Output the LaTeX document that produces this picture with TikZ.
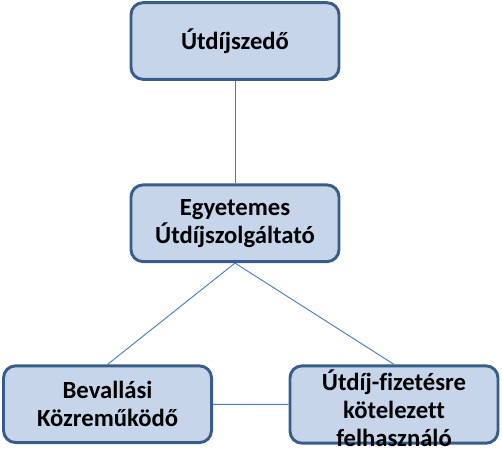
\documentclass[tikz,border=0pt]{standalone}
\usepackage{fontspec}
\setmainfont{Carlito}[Ligatures=CommonOff]
\usepackage{tikz}
\usetikzlibrary{positioning}

\definecolor{boxfill}{RGB}{198,213,234}
\definecolor{boxline}{RGB}{56,93,138}
\definecolor{linkline}{RGB}{74,126,187}

\begin{document}
\begin{tikzpicture}[
  font=\bfseries\fontsize{18.5}{21}\selectfont,
  role/.style={draw=boxline, line width=2.2pt, fill=boxfill, rounded corners=9pt,
    minimum width=156pt, minimum height=57.5pt, align=center, inner sep=1pt},
  link/.style={draw=linkline, line width=0.7pt},
]
\useasboundingbox (-176.25pt,30.75pt) rectangle (200.25pt,-315pt);

\node[role] (szedo) at (0,0) {Útdíjszedő};
\node[role, below=77pt of szedo] (szolgaltato) {Egyetemes\\Útdíjszolgáltató};
\node[role, below=76pt of szolgaltato, xshift=-95.6pt] (kozremukodo) {Bevallási\\Közreműködő};
\node[role, below=76pt of szolgaltato, xshift=119.25pt, minimum height=58pt] (felhasznalo) {};
\node[align=center, inner sep=0pt, yshift=-3pt] (felhasznalotext) at (felhasznalo) {Útdíj-fizetésre\\kötelezett\\felhasználó};

\draw[link] (szedo) -- (szolgaltato);
\draw[link] (szolgaltato.south) -- (kozremukodo.north);
\draw[link] (szolgaltato.south) -- (felhasznalo.north);
\draw[link] (kozremukodo) -- (felhasznalo);
\end{tikzpicture}
\end{document}
